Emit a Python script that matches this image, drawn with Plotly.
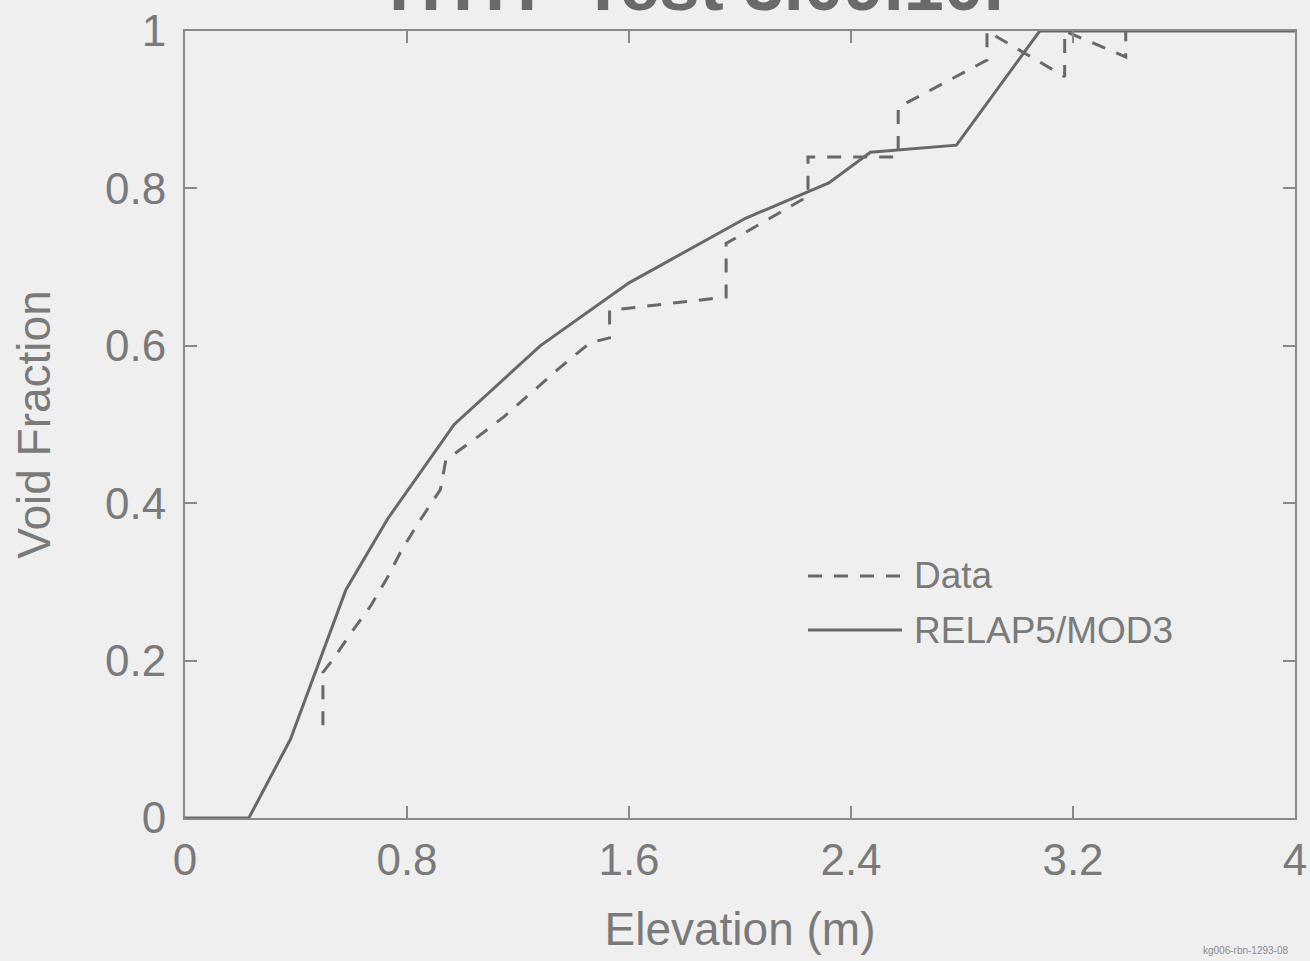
import plotly.graph_objects as go

# RELAP5/MOD3 calculation
relap_x = [0.0, 0.23, 0.38, 0.58, 0.73, 0.97, 1.28, 1.60, 2.02, 2.32, 2.47, 2.78, 3.08, 4.0]
relap_y = [0.0, 0.0, 0.10, 0.29, 0.38, 0.50, 0.60, 0.68, 0.762, 0.807, 0.846, 0.855, 1.0, 1.0]

# Measured data
data_x = [0.497, 0.497, 0.53, 0.60, 0.67, 0.73, 0.78, 0.85, 0.92, 0.94, 1.05, 1.15, 1.25,
          1.35, 1.46, 1.53, 1.53, 1.95, 1.95, 2.245, 2.245, 2.57, 2.57, 2.89, 2.89,
          3.17, 3.17, 3.39, 3.39]
data_y = [0.118, 0.185, 0.20, 0.236, 0.27, 0.306, 0.34, 0.38, 0.417, 0.455, 0.483, 0.51, 0.541,
          0.572, 0.604, 0.61, 0.645, 0.662, 0.73, 0.79, 0.84, 0.84, 0.903, 0.963, 1.0,
          0.942, 1.0, 0.967, 1.0]

x_ticks = [0, 0.8, 1.6, 2.4, 3.2, 4]
x_tick_labels = ["0", "0.8", "1.6", "2.4", "3.2", "4"]
y_ticks = [0, 0.2, 0.4, 0.6, 0.8, 1]
y_tick_labels = ["0", "0.2", "0.4", "0.6", "0.8", "1"]

title_text = "THTF Test 3.09.10I"
x_title = "Elevation (m)"
y_title = "Void Fraction"
legend_names = ["Data", "RELAP5/MOD3"]

BG = "#efefef"
LINE = "#686868"
FRAME = "#8a8a8a"
TXT = "#7a7a7a"
FONT = "Liberation Sans, Arial, sans-serif"

fig = go.Figure()
fig.add_trace(go.Scatter(x=data_x, y=data_y, mode="lines", name=legend_names[0],
                         line=dict(color=LINE, width=3, dash="14px,12px"), showlegend=False))
fig.add_trace(go.Scatter(x=relap_x, y=relap_y, mode="lines", name=legend_names[1],
                         line=dict(color=LINE, width=3), showlegend=False))

axis_common = dict(showline=True, linecolor=FRAME, linewidth=2, mirror="ticks",
                   ticks="inside", ticklen=12, tickwidth=2, tickcolor=FRAME,
                   showgrid=False, zeroline=False, automargin=False,
                   tickfont=dict(family=FONT, size=44, color=TXT))

fig.update_xaxes(range=[0, 4], tickvals=x_ticks, ticktext=x_tick_labels,
                 title=dict(text=x_title, font=dict(family=FONT, size=46, color=TXT), standoff=30),
                 ticklabelstandoff=2, **axis_common)
fig.update_yaxes(range=[0, 1], tickvals=y_ticks, ticktext=y_tick_labels,
                 title=dict(text=y_title, font=dict(family=FONT, size=46, color=TXT), standoff=40),
                 ticklabelstandoff=8, **axis_common)

# Custom legend (paper coordinates)
plot_l, plot_r, plot_t, plot_b = 185, 1295, 31, 818
W, H = 1310, 961
def px(xp):
    return (xp - plot_l) / (plot_r - plot_l)
def py(yp):
    return (plot_b - yp) / (plot_b - plot_t)

fig.add_shape(type="line", xref="paper", yref="paper", x0=px(808), x1=px(905), y0=py(576), y1=py(576),
              line=dict(color=LINE, width=3, dash="14px,12px"))
fig.add_shape(type="line", xref="paper", yref="paper", x0=px(808), x1=px(902), y0=py(630), y1=py(630),
              line=dict(color=LINE, width=3))
fig.add_annotation(xref="paper", yref="paper", x=px(912), y=py(575), xanchor="left", yanchor="middle",
                   text=legend_names[0], showarrow=False, font=dict(family=FONT, size=37, color=TXT))
fig.add_annotation(xref="paper", yref="paper", x=px(912), y=py(630), xanchor="left", yanchor="middle",
                   text=legend_names[1], showarrow=False, font=dict(family=FONT, size=37, color=TXT))

# Title (partially cut off at top of the page, as in the scanned original)
fig.add_annotation(xref="paper", yref="paper", x=px(690), y=1, xanchor="center", yanchor="bottom",
                   yshift=4, text="<b>" + title_text + "</b>", showarrow=False,
                   font=dict(family=FONT, size=72, color="#6a6a6a"))

# Document id
fig.add_annotation(xref="paper", yref="paper", x=px(1290), y=py(950), xanchor="right", yanchor="middle",
                   text="kg006-rbn-1293-08", showarrow=False, font=dict(family=FONT, size=10, color="#8a8a8a"))

fig.update_layout(width=W, height=H, paper_bgcolor=BG, plot_bgcolor=BG,
                  margin=dict(l=plot_l, r=W - plot_r, t=plot_t, b=H - plot_b, autoexpand=False),
                  showlegend=False)

fig.write_html("out.html")
